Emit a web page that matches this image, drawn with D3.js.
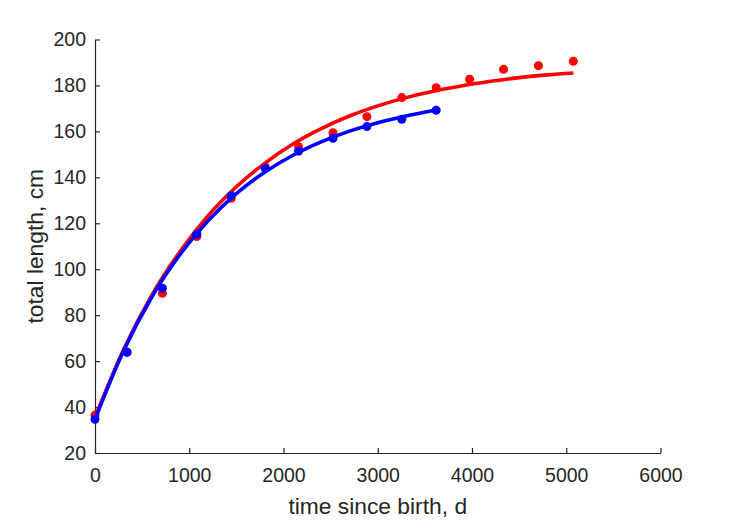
<!DOCTYPE html>
<html>
<head>
<meta charset="utf-8">
<script src="https://cdn.jsdelivr.net/npm/d3@7"></script>
<style>
  html, body { margin: 0; padding: 0; background: #fff; }
  text { font-family: "Liberation Sans", Arial, Helvetica, sans-serif; fill: #262626; }
</style>
</head>
<body>
<svg id="chart" width="729" height="521"></svg>
<script>
// ---- data ----
const ageDays   = [0, 340, 715, 1080, 1445, 1805, 2160, 2525, 2885, 3255, 3620, 3975, 4335, 4705, 5075];
const lenRed    = [36.5, 64, 89.5, 114.2, 130.9, 144.6, 153.3, 159.4, 166.4, 174.7, 179.0, 182.7, 187.0, 188.6, 190.5];
const lenBlue   = [34.7, 63.8, 91.7, 115.2, 132.0, 143.9, 151.4, 157.0, 162.1, 165.3, 169.2];

const fitTRed   = [0, 300, 600, 900, 1200, 1500, 1800, 2100, 2400, 2700, 3000, 3300, 3600, 3900, 4200, 4500, 4800, 5075];
const fitRed    = [35.5, 64.7, 88.5, 107.6, 123.3, 135.9, 146.1, 154.5, 161.2, 166.7, 171.1, 174.7, 177.6, 179.9, 181.8, 183.4, 184.6, 185.4];
const fitTBlue  = [0, 300, 600, 900, 1200, 1500, 1800, 2100, 2400, 2700, 3000, 3300, 3620];
const fitBlue   = [34.7, 64.2, 87.7, 106.3, 121.1, 132.9, 142.2, 149.6, 155.4, 160.1, 163.8, 166.7, 169.3];

const xTicks = [0, 1000, 2000, 3000, 4000, 5000, 6000];
const yTicks = [20, 40, 60, 80, 100, 120, 140, 160, 180, 200];
const xLabel = "time since birth, d";
const yLabel = "total length, cm";

// ---- layout ----
const svg = d3.select("#chart");
const mL = 95, mR = 660.5, mT = 39.5, mB = 453;
const x = d3.scaleLinear().domain([0, 6000]).range([mL, mR]);
const y = d3.scaleLinear().domain([20, 200]).range([mB, mT]);
const axisColor = "#262626";

// axes
const xAxis = d3.axisBottom(x).tickValues(xTicks).tickSizeInner(-5).tickSizeOuter(0).tickPadding(15).tickFormat(d3.format("d"));
const yAxis = d3.axisLeft(y).tickValues(yTicks).tickSizeInner(-5).tickSizeOuter(0).tickPadding(9).tickFormat(d3.format("d"));

const gx = svg.append("g").attr("transform", `translate(0,${mB})`).call(xAxis);
const gy = svg.append("g").attr("transform", `translate(${mL},0)`).call(yAxis);
[gx, gy].forEach(g => {
  g.select(".domain").attr("stroke", axisColor).attr("stroke-width", 1.2);
  g.selectAll(".tick line").attr("stroke", axisColor).attr("stroke-width", 1.2);
  g.selectAll(".tick text").attr("fill", axisColor).style("font-size", "19.5px")
    .style("font-family", '"Liberation Sans", Arial, sans-serif');
});
gx.selectAll(".tick text").attr("dy", "0.71em");

// axis labels
svg.append("text").attr("x", (mL + mR) / 2).attr("y", 514)
  .attr("text-anchor", "middle").style("font-size", "22.8px").text(xLabel);
svg.append("text").attr("transform", `translate(43,${(mT + mB) / 2}) rotate(-90)`)
  .attr("text-anchor", "middle").style("font-size", "22.8px").text(yLabel);

// lines & points
const line = d3.line().x(d => x(d[0])).y(d => y(d[1])).curve(d3.curveMonotoneX);
const redFitPts = fitTRed.map((t, i) => [t, fitRed[i]]);
const blueFitPts = fitTBlue.map((t, i) => [t, fitBlue[i]]);
const redPts = ageDays.map((t, i) => [t, lenRed[i]]);
const bluePts = lenBlue.map((v, i) => [ageDays[i], v]);

svg.append("path").datum(redFitPts).attr("d", line)
  .attr("fill", "none").attr("stroke", "#ff0000").attr("stroke-width", 3.6);
svg.append("g").selectAll("circle").data(redPts).join("circle")
  .attr("cx", d => x(d[0])).attr("cy", d => y(d[1])).attr("r", 4.5).attr("fill", "#ff0000");

svg.append("path").datum(blueFitPts).attr("d", line)
  .attr("fill", "none").attr("stroke", "#0000ff").attr("stroke-width", 3.6);
svg.append("g").selectAll("circle").data(bluePts).join("circle")
  .attr("cx", d => x(d[0])).attr("cy", d => y(d[1])).attr("r", 4.5).attr("fill", "#0000ff");
</script>
</body>
</html>
